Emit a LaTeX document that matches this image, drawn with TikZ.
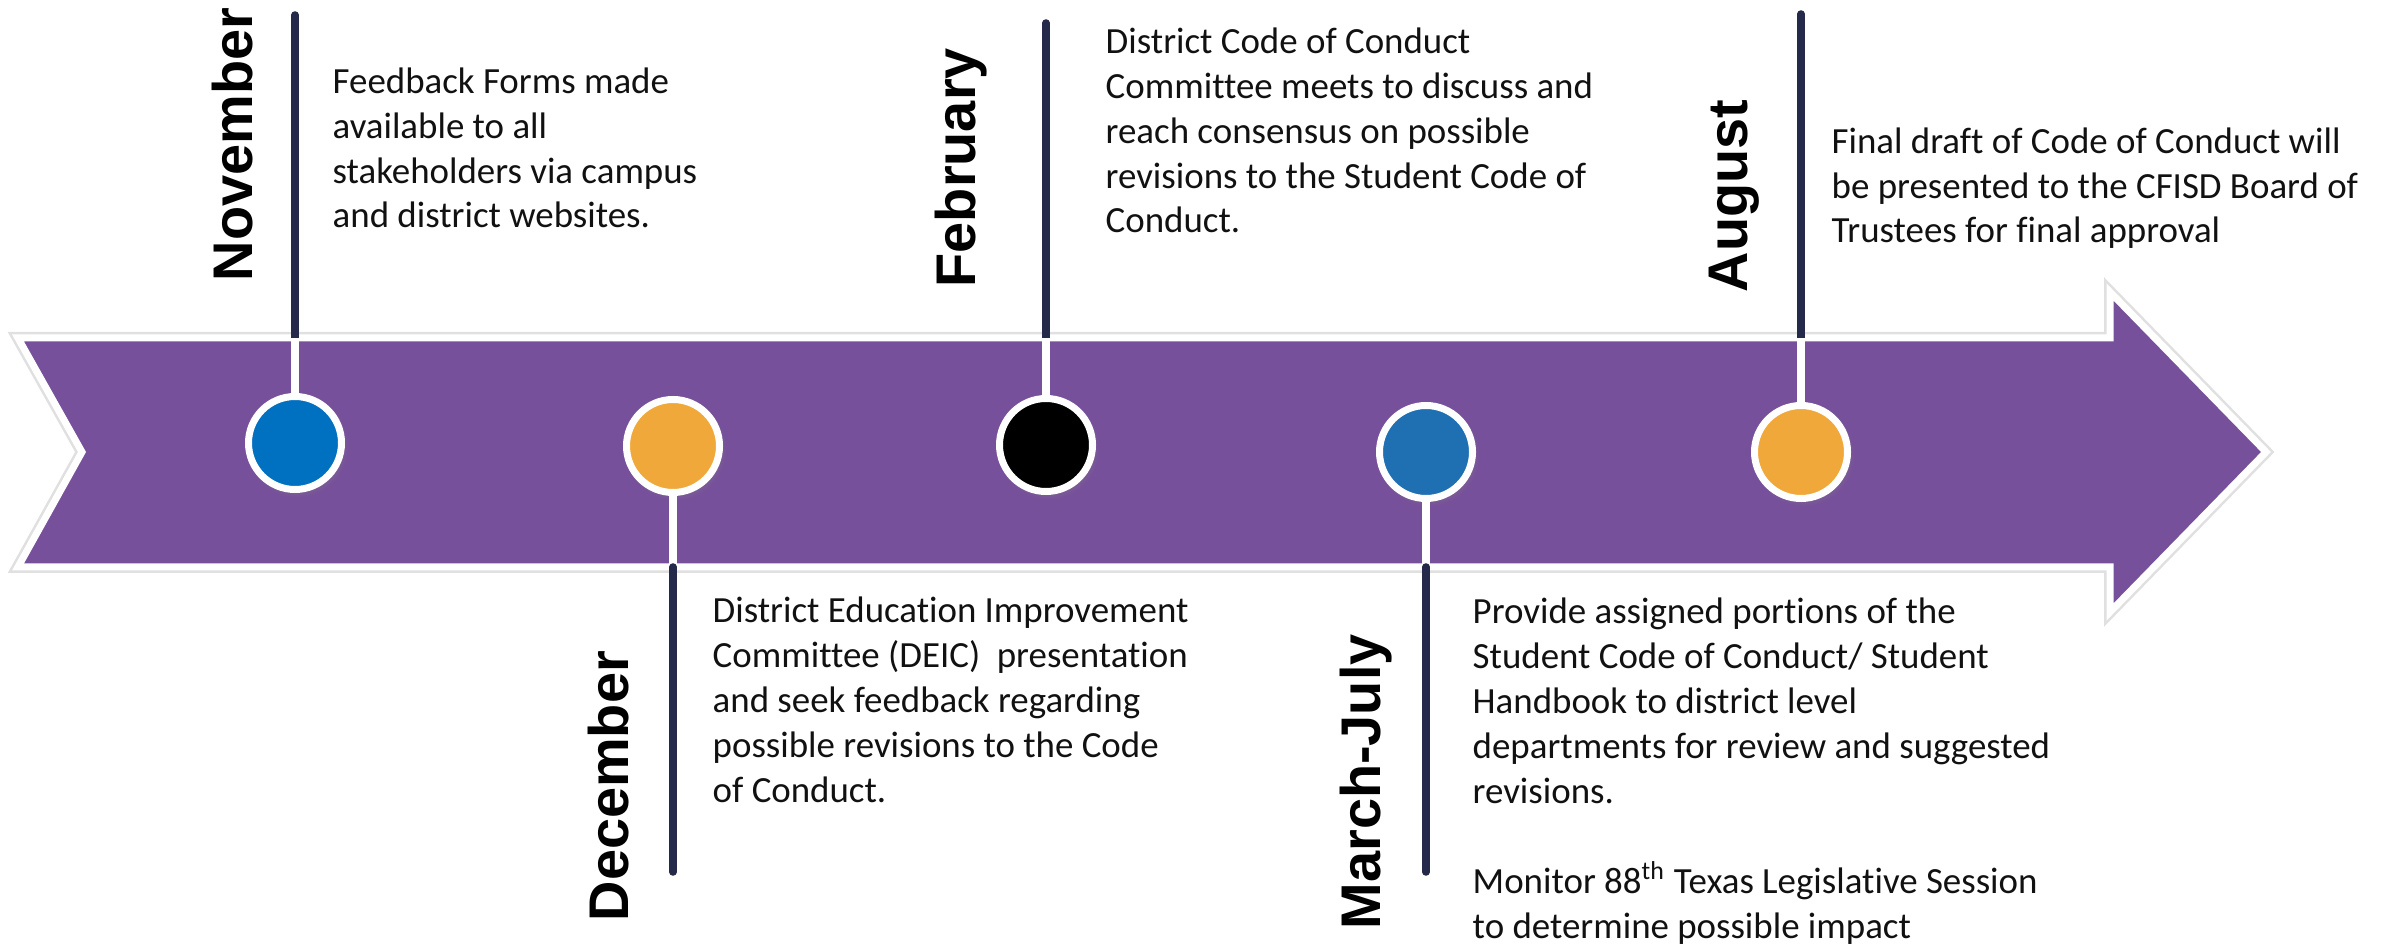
\documentclass[tikz,border=0pt]{standalone}
\usepackage{fontspec}
\setmainfont{Carlito}[Ligatures=NoCommon]
\newfontfamily\monthfont{Liberation Sans}
\definecolor{tlPurple}{HTML}{77509B}
\definecolor{tlNavy}{HTML}{252A4A}
\definecolor{tlBlue}{HTML}{0070C0}
\definecolor{tlSky}{HTML}{1F6FB3}
\definecolor{tlAmber}{HTML}{F1A83A}
\definecolor{tlInk}{HTML}{111111}
\usetikzlibrary{shadows}

\begin{document}
\begin{tikzpicture}[x=0.1mm, y=-0.1mm,
  band/.style={fill=tlPurple, draw=white, line width=0.7mm, line join=miter},
  dot/.style={circle, minimum size=9.3mm, inner sep=0pt, draw=white, line width=0.7mm,
    circular drop shadow={shadow xshift=0.2mm, shadow yshift=-0.3mm, opacity=0.3}},
  stemdark/.style={tlNavy, line width=0.75mm, line cap=round},
  stemlight/.style={white, line width=0.75mm},
  month/.style={rotate=90, anchor=base west, inner sep=0pt, text=black,
    font=\monthfont\bfseries\fontsize{15.9pt}{18pt}\selectfont},
  note/.style={anchor=base west, inner sep=0pt, align=left, text=tlInk,
    font=\fontsize{10.5pt}{12.8pt}\selectfont}]
  \fill[white] (0,0) rectangle (2394,944);
  \useasboundingbox (0,0) rectangle (2394,944);

  % timeline band with its soft edge
  \draw[black!12, line width=1.2mm, line join=miter]
    (18,338) -- (2110,338) -- (2110,292) -- (2266,452) -- (2110,612) -- (2110,567) -- (18,567) -- (82,452) -- cycle;
  \draw[band]
    (18,338) -- (2110,338) -- (2110,292) -- (2266,452) -- (2110,612) -- (2110,567) -- (18,567) -- (82,452) -- cycle;

  % milestones on the band
  \node[dot, fill=tlBlue] (nov) at (295,443) {};
  \node[dot, fill=tlAmber] (dec) at (673,446) {};
  \node[dot, fill=black] (feb) at (1046,445) {};
  \node[dot, fill=tlSky] (mj) at (1426,452) {};
  \node[dot, fill=tlAmber] (aug) at (1801,452) {};

  % stem ends
  \coordinate (novtop) at (295,15);
  \coordinate (novedge) at (295,338);
  \coordinate (febtop) at (1046,23);
  \coordinate (febedge) at (1046,338);
  \coordinate (augtop) at (1801,14);
  \coordinate (augedge) at (1801,338);
  \coordinate (decedge) at (673,567);
  \coordinate (decend) at (673,872);
  \coordinate (mjedge) at (1426,567);
  \coordinate (mjend) at (1426,872);

  % stems
  \draw[stemdark] (novtop) -- (novedge);
  \draw[stemlight] (novedge) -- (nov);
  \draw[stemdark] (febtop) -- (febedge);
  \draw[stemlight] (febedge) -- (feb);
  \draw[stemdark] (augtop) -- (augedge);
  \draw[stemlight] (augedge) -- (aug);
  \draw[stemlight] (dec) -- (decedge);
  \draw[stemdark] (decedge) -- (decend);
  \draw[stemlight] (mj) -- (mjedge);
  \draw[stemdark] (mjedge) -- (mjend);

  % months
  \node[month] (novlabel) at (252,282) {November};
  \node[month] (feblabel) at (975,288) {February};
  \node[month] (auglabel) at (1747,293) {August};
  \node[month] (declabel) at (628,922) {December};
  \node[month] (mjlabel) at (1380,930) {March-July};

  % notes (placed by their last baseline)
  \node[note] (novnote) at (332,228) {Feedback Forms made\\available to all\\stakeholders via campus\\and district websites.};
  \node[note] (febnote) at (1105,233) {District Code of Conduct\\Committee meets to discuss and\\reach consensus on possible\\revisions to the Student Code of\\Conduct.};
  \node[note] (augnote) at (1831,243) {Final draft of Code of Conduct will\\be presented to the CFISD Board of\\Trustees for final approval};
  \node[note] (decnote) at (712,802) {District Education Improvement\\Committee (DEIC)~ presentation\\and seek feedback regarding\\possible revisions to the Code\\of Conduct.};
  \node[note] (mjnote) at (1472,938) {Provide assigned portions of the\\Student Code of Conduct/ Student\\Handbook to district level\\departments for review and suggested\\revisions.\\[12.8pt]Monitor 88\textsuperscript{th} Texas Legislative Session\\to determine possible impact};
\end{tikzpicture}
\end{document}
